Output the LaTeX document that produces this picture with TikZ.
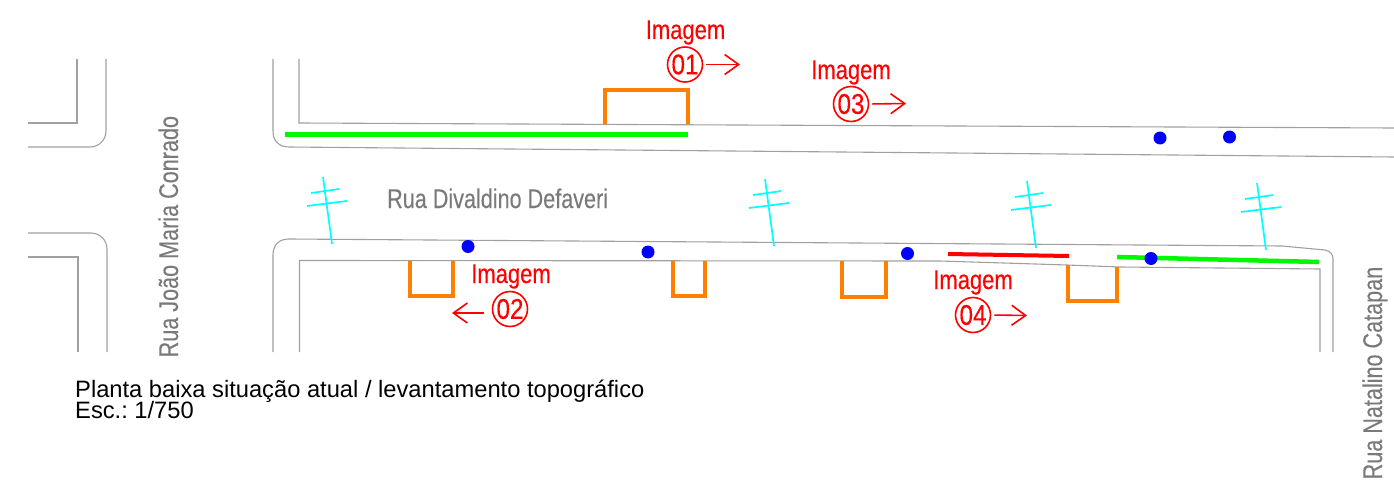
\documentclass[tikz,border=0pt]{standalone}
\usepackage{fontspec}
\usetikzlibrary{arrows.meta}
\setmainfont{Liberation Sans}
\newfontfamily\narrowfont[FakeStretch=0.815,FakeBold=0.25]{Liberation Sans}
\newfontfamily\streetfont[FakeStretch=0.8,FakeBold=0.25]{Liberation Sans}
\newfontfamily\numfont[FakeStretch=0.85,FakeBold=0.25]{Liberation Sans}
\definecolor{roadgray}{HTML}{A0A0A0}
\definecolor{namegray}{HTML}{7A7A7A}
\definecolor{wallorange}{HTML}{FF8000}
\definecolor{hedgegreen}{HTML}{00F800}
\definecolor{polecyan}{HTML}{00FFFF}
\tikzset{
  road/.style={draw=roadgray,line width=1.1pt},
  wall/.style={draw=wallorange,line width=4pt,line cap=butt,line join=miter},
  hedge/.style={draw=hedgegreen,line width=4.5pt},
  redwall/.style={draw=red,line width=4pt},
  polepart/.style={draw=polecyan,line width=1.7pt},
  dot/.style={circle,fill=blue,inner sep=0pt,minimum size=13pt},
  imglabel/.style={text=red,anchor=base,inner sep=0pt,font=\narrowfont\fontsize{27}{28}\selectfont},
  imgnum/.style={draw=red,text=red,line width=1.6pt,circle,inner sep=0pt,minimum size=35pt,font=\numfont\fontsize{28.5}{28}\selectfont},
  viewarrow/.style={draw=red,line width=1.6pt,-{Straight Barb[length=14pt,width=20pt,line width=1.6pt]}},
  streetname/.style={text=namegray,anchor=base west,inner sep=0pt,font=\streetfont\fontsize{27}{28}\selectfont},
  caption/.style={text=black,anchor=base west,inner sep=0pt,font=\fontsize{23.7}{24}\selectfont\frenchspacing}
}
\newcommand{\utilitypole}[2]{%
  \begin{scope}[shift={(#1,#2)}]
    \draw[polepart] (323,177) -- (332,244);
    \draw[polepart] (311,193) -- (339,189);
    \draw[polepart] (307,206) -- (347,201);
  \end{scope}}
\begin{document}
\begin{tikzpicture}[x=1pt,y=-1pt]
\useasboundingbox (0,0) rectangle (1394,487);
% roads
\draw[road] (77,59) -- (77,123) -- (28,123);
\draw[road] (106,59) -- (106,131) arc[start angle=0,end angle=90,radius=16] -- (28,147);
\draw[road] (28,233) -- (91,233) arc[start angle=-90,end angle=0,radius=16] -- (107,352);
\draw[road] (28,257) -- (78,257) -- (78,352);
\draw[road] (273,59) -- (273,131) .. controls (273,141) and (279,147) .. (289,147) -- (1394,157);
\draw[road] (299,59) -- (299,123) -- (1394,128);
\draw[road] (273,352) -- (273,255) .. controls (273,245) and (279,239) .. (289,239) -- (1282,246) -- (1325,250) .. controls (1330,251) and (1333,254) .. (1333,259) -- (1333,352);
\draw[road] (299.5,352) -- (299.5,260.5) -- (940,261) -- (1067,265) -- (1120,267) -- (1320,269) -- (1320,352);
% walls
\draw[wall] (605,124) -- (605,89.5) -- (688,89.5) -- (688,124);
\draw[wall] (410,261) -- (410,295.5) -- (453,295.5) -- (453,261);
\draw[wall] (673,261) -- (673,296) -- (705,296) -- (705,261);
\draw[wall] (842,261) -- (842,296.5) -- (886,296.5) -- (886,261);
\draw[wall] (1068,265) -- (1068,301) -- (1117,301) -- (1117,267);
\draw[hedge] (285,134.5) -- (688,134.5);
\draw[hedge] (1117,257) -- (1319,262);
\draw[redwall] (948,254) -- (1069,256);
% poles
\utilitypole{0}{0}
\utilitypole{442}{2}
\utilitypole{704}{4}
\utilitypole{934}{6}
% dots
\node[dot] (d1) at (1160,138) {};
\node[dot] (d2) at (1229.5,137) {};
\node[dot] (d3) at (468,246.5) {};
\node[dot] (d4) at (648,252) {};
\node[dot] (d5) at (907.5,253.5) {};
\node[dot] (d6) at (1151,258.5) {};
% image markers
\node[imglabel] (i1) at (685.5,39) {Imagem};
\node[imgnum] (c1) at (685,64.5) {01};
\coordinate (a1) at (740,64.5);
\draw[viewarrow,shorten <=3pt] (c1.east) -- (a1);
\node[imglabel] (i3) at (851,79) {Imagem};
\node[imgnum] (c3) at (851,104) {03};
\coordinate (a3) at (906,103.5);
\draw[viewarrow,shorten <=3pt] (c3.east) -- (a3);
\node[imglabel] (i2) at (511,283) {Imagem};
\node[imgnum] (c2) at (510,309) {02};
\coordinate (a2s) at (484,313);
\coordinate (a2) at (452,313);
\draw[viewarrow] (a2s) -- (a2);
\node[imglabel] (i4) at (973,289) {Imagem};
\node[imgnum] (c4) at (973,315) {04};
\coordinate (a4) at (1027,315.5);
\draw[viewarrow,shorten <=3pt] (c4.east) -- (a4);
% street names
\node[streetname] (s1) at (387,208) {Rua Divaldino Defaveri};
\node[streetname,rotate=90] (s2) at (178,357.5) {Rua João Maria Conrado};
\node[streetname,rotate=90] (s3) at (1382,479.5) {Rua Natalino Catapan};
% caption
\node[caption] (t1) at (75,397) {Planta baixa situação atual / levantamento topográfico};
\node[caption] (t2) at (75,418) {Esc.: 1/750};
\end{tikzpicture}
\end{document}
